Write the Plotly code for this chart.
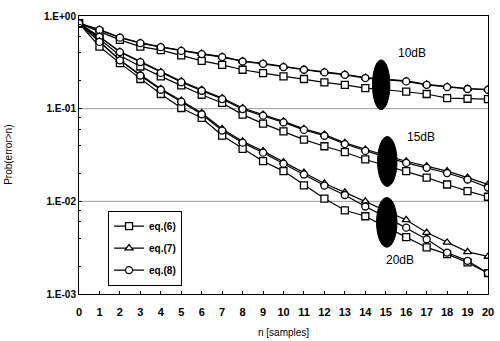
import math
import plotly.graph_objects as go

n = list(range(21))

# 10 dB
p10_eq6 = [0.835, 0.678, 0.552, 0.468, 0.428, 0.376, 0.328, 0.297, 0.263, 0.242, 0.223,
           0.209, 0.192, 0.181, 0.167, 0.160, 0.153, 0.144, 0.130, 0.128, 0.127]
p10_eq7 = [0.840, 0.712, 0.590, 0.515, 0.466, 0.425, 0.393, 0.364, 0.327, 0.309, 0.285,
           0.266, 0.249, 0.235, 0.217, 0.208, 0.199, 0.183, 0.173, 0.165, 0.162]
p10_eq8 = [0.835, 0.707, 0.584, 0.509, 0.461, 0.420, 0.388, 0.360, 0.323, 0.305, 0.281,
           0.263, 0.246, 0.232, 0.214, 0.205, 0.197, 0.181, 0.171, 0.163, 0.160]
# 15 dB
p15_eq6 = [0.835, 0.566, 0.374, 0.285, 0.223, 0.178, 0.1414, 0.1152, 0.0862, 0.0690, 0.0570,
           0.0464, 0.0393, 0.0339, 0.0283, 0.0244, 0.0212, 0.0180, 0.0152, 0.0129, 0.0112]
p15_eq7 = [0.835, 0.599, 0.413, 0.323, 0.248, 0.197, 0.160, 0.130, 0.1017, 0.0862, 0.0730,
           0.0605, 0.0525, 0.0428, 0.0362, 0.0312, 0.0271, 0.0240, 0.0212, 0.0180, 0.0152]
p15_eq8 = [0.835, 0.595, 0.408, 0.318, 0.243, 0.193, 0.156, 0.127, 0.099, 0.084, 0.071,
           0.059, 0.051, 0.0415, 0.035, 0.030, 0.026, 0.023, 0.0202, 0.0172, 0.0141]
# 20 dB
p20_eq6 = [0.835, 0.468, 0.310, 0.209, 0.144, 0.1017, 0.0794, 0.0513, 0.0369, 0.0271, 0.0212,
           0.0149, 0.0107, 0.0080, 0.0069, 0.0053, 0.0041, 0.00318, 0.00269, 0.00219, 0.00168]
p20_eq7 = [0.835, 0.529, 0.336, 0.232, 0.164, 0.122, 0.0899, 0.0605, 0.0445, 0.0348, 0.0265,
           0.0204, 0.0156, 0.0125, 0.0100, 0.0080, 0.0063, 0.0046, 0.0036, 0.00285, 0.00254]
p20_eq8 = [0.835, 0.525, 0.332, 0.228, 0.160, 0.119, 0.087, 0.058, 0.0430, 0.0335, 0.0255,
           0.0195, 0.0148, 0.0117, 0.0088, 0.0068, 0.0052, 0.0039, 0.0028, 0.00228, 0.00168]

series_names = ["eq.(6)", "eq.(7)", "eq.(8)"]
symbols = ["square", "triangle-up", "circle"]
groups = {
    "10dB": [p10_eq6, p10_eq7, p10_eq8],
    "15dB": [p15_eq6, p15_eq7, p15_eq8],
    "20dB": [p20_eq6, p20_eq7, p20_eq8],
}

# SNR labels (n position, probability) and ellipse extents
snr_labels = ["10dB", "15dB", "20dB"]
label_pos = [(16.3, 0.40), (16.7, 0.050), (15.7, 0.00235)]
ellipse_x = [(14.35, 15.2), (14.6, 15.55), (14.55, 15.55)]
ellipse_y = [(0.0975, 0.336), (0.0145, 0.050), (0.0032, 0.0110)]

y_tickvals = [1, 0.1, 0.01, 0.001]
y_ticktext = ["1.E+00", "1.E-01", "1.E-02", "1.E-03"]
y_minor = [m * 10 ** d for d in (-3, -2, -1) for m in (2, 4, 6, 8)]

fig = go.Figure()

for gi, (gname, ylist) in enumerate(groups.items()):
    for k in range(3):
        fig.add_trace(go.Scatter(
            x=n, y=ylist[k], mode="lines+markers",
            name=series_names[k], legendgroup=series_names[k],
            showlegend=(gi == 0),
            line=dict(color="black", width=1.2),
            marker=dict(symbol=symbols[k], size=7, color="white",
                        line=dict(color="black", width=1.3)),
        ))

shapes = []
for (x0, x1), (y0, y1) in zip(ellipse_x, ellipse_y):
    shapes.append(dict(type="circle", xref="x", yref="y", x0=x0, x1=x1, y0=y0, y1=y1,
                       fillcolor="black", line=dict(color="black", width=1), layer="above"))
# horizontal gridlines
for gv in [0.1, 0.01]:
    shapes.append(dict(type="line", xref="paper", yref="y", x0=0, x1=1, y0=gv, y1=gv,
                       line=dict(color="#999999", width=1), layer="below"))

annotations = []
for txt, (xx, yy) in zip(snr_labels, label_pos):
    annotations.append(dict(x=xx, y=math.log10(yy), xref="x", yref="y", text=txt,
                            showarrow=False,
                            font=dict(family="Liberation Sans", size=12, color="black")))
# axis titles
annotations.append(dict(x=0.5, y=-0.14, xref="paper", yref="paper", text="n [samples]",
                        showarrow=False, xanchor="center", yanchor="middle",
                        font=dict(family="Liberation Sans", size=10, color="black")))
annotations.append(dict(x=-0.174, y=0.5, xref="paper", yref="paper", text="Prob(error>n)",
                        showarrow=False, textangle=-90, xanchor="center", yanchor="middle",
                        font=dict(family="Liberation Sans", size=10, color="black")))

fig.update_layout(
    width=500, height=341,
    margin=dict(l=79, r=12, t=16, b=47, autoexpand=False),
    paper_bgcolor="white", plot_bgcolor="white",
    font=dict(family="Liberation Sans", color="black", size=10),
    shapes=shapes,
    annotations=annotations,
    showlegend=True,
    legend=dict(x=0.071, y=0.30, xanchor="left", yanchor="top",
                bgcolor="white", bordercolor="black", borderwidth=1,
                font=dict(family="Liberation Sans", size=10, color="black", weight="bold"),
                itemwidth=30, tracegroupgap=3),
    xaxis=dict(range=[0, 20], tickmode="linear", dtick=1, showgrid=False, zeroline=False,
               automargin=False,
               showline=True, linecolor="black", linewidth=1, mirror=True,
               ticks="outside", ticklen=8, tickcolor="rgba(0,0,0,0)",
               tickfont=dict(family="Liberation Sans", size=11, color="black", weight="bold")),
    xaxis2=dict(range=[0, 20], overlaying="x", side="bottom", tickmode="linear", dtick=1,
                showgrid=False, zeroline=False, automargin=False, showticklabels=False,
                showline=False, ticks="inside", ticklen=3, tickcolor="black"),
    yaxis=dict(type="log", range=[-3, 0], tickvals=y_tickvals, ticktext=y_ticktext,
               showgrid=False, zeroline=False, automargin=False,
               showline=True, linecolor="black", linewidth=1, mirror=True,
               ticks="inside", ticklen=3, tickcolor="black",
               minor=dict(tickvals=y_minor, ticks="inside", ticklen=2,
                          tickcolor="black", showgrid=False),
               tickfont=dict(family="Liberation Sans", size=10, color="black", weight="bold")),
)

# invisible trace to activate the tick-only overlay axis
fig.add_trace(go.Scatter(x=[n[0]], y=[p10_eq6[0]], xaxis="x2", mode="markers",
                         marker=dict(opacity=0), showlegend=False, hoverinfo="skip"))

fig.write_html("out.html")
